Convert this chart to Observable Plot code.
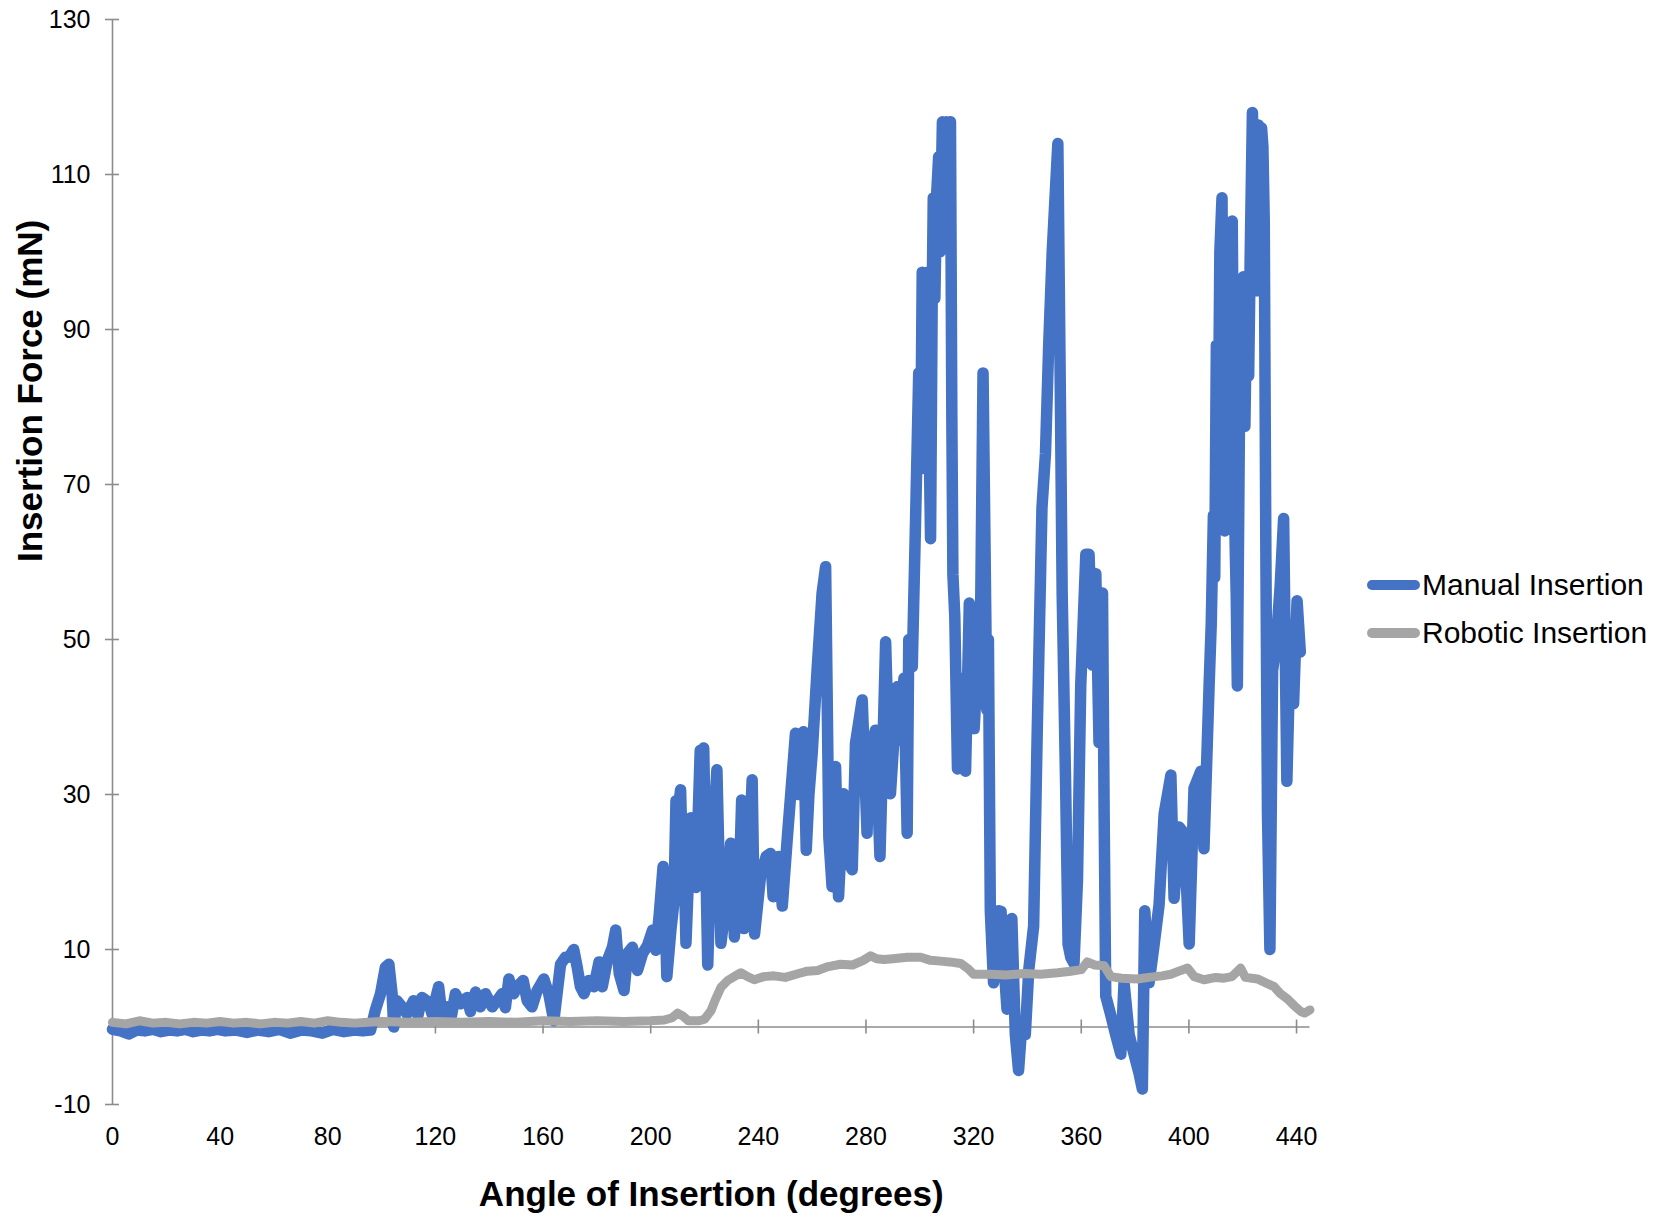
<!DOCTYPE html>
<html>
<head>
<meta charset="utf-8">
<script src="https://cdn.jsdelivr.net/npm/d3@7"></script>
<script src="https://cdn.jsdelivr.net/npm/@observablehq/plot@0.6"></script>
<style>
  html, body { margin: 0; padding: 0; background: #fff; }
  #wrap { position: relative; width: 1654px; height: 1219px; font-family: "Liberation Sans", Arial, sans-serif; }
  #legend { position: absolute; left: 1367px; top: 561px; }
  .row { display: flex; align-items: center; height: 48px; font-size: 30px; color: #000; white-space: nowrap; }
  .sw { width: 53px; height: 10px; border-radius: 5px; margin-right: 2px; }
</style>
</head>
<body>
<div id="wrap"><div id="legend"></div></div>
<script>
// ---- data ----
const seriesNames = ["Manual Insertion", "Robotic Insertion"];
const seriesColors = ["#4472C4", "#A5A5A5"];
const xTicks = [0, 40, 80, 120, 160, 200, 240, 280, 320, 360, 400, 440];
const yTicks = [-10, 10, 30, 50, 70, 90, 110, 130];

const manualAngle = [0,3,6,9,12,15,18,21,24,27,30,33,36,39,42,46,50,54,58,62,66,70,74,78,82,86,90,93,95.9,
97.7,99.6,101.4,102.7,103.9,104.5,105.7,107.6,109.4,111.9,113.5,115,117.5,118.7,121.2,122.5,124.3,126,127.4,129.3,
131.8,133,134.9,136.7,138.6,141.1,142.9,144.8,146,147.3,149.1,150.4,152.6,154.1,155.9,157.8,160.3,162.1,164,165.2,
166.5,168.3,169.6,171.4,172.7,173.9,175.2,177,178.9,180.8,182,183.9,185.8,187,188.3,190.1,191.4,193.2,195.1,197,
198.8,200.7,201.9,203.2,204.6,205.2,206,207.5,208.6,209.4,210.2,211.1,211.8,212.4,213.1,214.9,216.8,218.4,219.1,219.7,221.2,222.4,223.6,224.6,
226.1,228,229.7,231.1,232.1,233,233.8,234.6,236.1,237.7,238.6,240.8,242.9,244.5,245.5,247.5,248.9,250.7,253.8,254.8,256.8,
257.8,258.8,260,261.9,263.7,265,266.2,267.4,268.7,269.8,271.7,273,274.9,276.1,278.6,280.4,281.1,283.5,285.2,287.3,
287.9,289.1,291.6,292.8,294.1,295.3,295.9,297.2,298.4,299.6,300.3,300.9,301.4,302.1,302.8,303.5,304,304.6,305,
305.6,306.2,307,307.5,308.4,309.2,309.8,310.5,311.4,311.9,312.3,313,314,315.2,315.9,317,318.4,319,320.2,321.5,322.5,323.5,324.3,324.9,325.5,326.2,
327.4,328.5,329.3,330.2,331.1,332.4,333.2,334.2,335.5,336.7,338,339.2,340.5,342.3,343.6,345.4,346.7,347.9,349.2,
350.4,351.3,352.3,352.9,354.2,355.1,356.1,357.3,358.6,359.8,361.7,362.9,364.1,365.4,366.6,367.9,368.5,369.1,371,
372.8,374.7,375.9,377.8,379.6,381.5,382.7,383.6,385.2,387.1,388.9,390.8,393.3,394.5,396.4,398.2,400.1,401.9,404.4,
405.6,407.5,408.3,409.1,409.6,410.2,410.8,411.5,412.3,412.8,413.3,413.8,414.4,414.9,415.5,416.1,416.6,417.2,417.6,418,
418.6,419.2,419.7,420.2,420.8,421.3,421.7,422.2,422.8,423.6,424.2,424.8,425.3,425.8,426.4,427,427.5,428,428.6,429.2,430.1,
431.1,432.3,433.9,435.2,436.4,437.7,438.9,440.2,441.4];
const manualForce = [-0.3,-0.5,-0.9,-0.4,-0.5,-0.3,-0.6,-0.4,-0.5,-0.3,-0.6,-0.4,-0.5,-0.3,-0.5,-0.4,-0.7,-0.4,-0.6,-0.3,-0.8,-0.4,-0.5,-0.8,-0.3,-0.6,-0.4,-0.5,-0.4,
2.2,4.3,7.7,8.1,4.3,0,3.4,2.6,1.7,3.4,1.5,3.8,3.2,1.7,5.2,1.3,2.6,1.5,4.3,3,
3.8,2.0,4.5,2.6,4.3,2.6,3.4,4.3,2.5,6.2,4.3,5.2,6,3.4,2.6,4.7,6.2,4.3,0.8,4.3,
8.1,9,9,10,7.7,5.2,4.3,6,5.2,8.4,5.2,8.6,10.3,12.5,6.9,4.7,9.5,10.3,7.3,9.5,
10.5,12.5,9.9,14.6,20.7,16.8,6.5,12.5,16,29.2,28,30.6,21.5,22,10.8,27,18,35.7,35.7,36,8,23,27,33.2,
10.8,16.3,23.7,11.6,22,19.8,29.3,12.7,18,31.9,12,19.4,22,22.4,16.8,22,15.6,24.1,37.9,30,38.1,
22.8,30,35.3,46.5,56,59.4,24.5,18.1,33.6,16.8,30.1,21.5,20.3,36.6,42.2,25,34.8,38.3,22,49.7,
42.2,30.1,43.9,37,45,25,50,46.5,65,84.4,72,97.4,92.9,80,97.4,75,63,94,107,
94,107,112.3,100,116.8,105,116.8,112,116.8,79,58.4,53,33.3,45,40,33,54.7,45,38.5,47.3,50,84.4,60,40.9,50,15,
5.7,12,15,14.9,9,2.3,6,14,-1,-5.6,0.7,-1,7.4,13,37.5,67,74,88,100,
108,114,79,56,31,10.7,9,8.2,19,44,61,61,46.7,58.5,36.7,56,27.5,4,1.5,
-1,-3.5,5.7,-1,-3.5,-6,-8,15,5.7,10.7,15.7,27.5,32.5,16.6,25.8,25,10.7,30.8,33,
23,44,52,66,58,88,70,100,107,80,64,90,70,86,96,104,80,62,55.5,44,
70,96,80,96.8,77.5,90,96,84,100,118,105,116,95,116.4,108,116,113.6,104,61,27.5,10,
46,49,56.8,65.6,31.7,50,41.7,55,48.4];

const roboticAngle = [0,5,10,15,20,25,30,35,40,45,50,55,60,65,70,75,80,85,90,95,100,110,120,130,140,150,160,170,180,190,
200,205,208,210,212,214,218,220,222.4,224,226.1,228.6,231,233.5,236,238.5,242,245.8,250,255,258.2,262,266,270.6,275,279,
281.7,284,286.7,290,295.3,300.3,304,307.8,311,315.2,318,320,326.5,332,338.8,345,351.2,356.1,360,362.2,365,368.5,371,375,
380.9,385,390,393.3,397,399.5,402,405.6,410,413,416,419.2,421,425.5,428,431.7,434,436.7,439,441.6,443,445];
const roboticForce = [0.6,0.4,0.8,0.5,0.6,0.4,0.6,0.5,0.7,0.5,0.6,0.4,0.6,0.5,0.7,0.5,0.8,0.6,0.5,0.6,0.7,0.6,0.7,0.6,0.7,0.6,0.8,0.7,0.8,0.7,
0.8,0.9,1.2,1.8,1.4,0.8,0.8,1.0,2.1,3.5,5.1,6,6.5,7,6.5,6.1,6.5,6.6,6.4,6.9,7.2,7.3,7.8,8.1,8.0,8.6,
9.2,8.8,8.7,8.8,9.0,9.0,8.6,8.5,8.4,8.2,7.5,6.8,6.8,6.7,6.9,6.8,7.0,7.2,7.4,8.4,8.0,7.9,6.5,6.3,
6.2,6.4,6.6,6.8,7.3,7.6,6.5,6.1,6.4,6.3,6.5,7.6,6.4,6.2,5.8,5.2,4.3,3.6,2.8,2.0,1.8,2.2];

// ---- build tables ----
const manual = manualAngle.map((a, i) => ({angle: a, force: manualForce[i]}));
const robotic = roboticAngle.map((a, i) => ({angle: a, force: roboticForce[i]}));

const axisColor = "#8c8c8c";
const chart = Plot.plot({
  width: 1654,
  height: 1219,
  marginLeft: 112,
  marginRight: 344.5,
  marginTop: 19,
  marginBottom: 115,
  x: {domain: [0, 445]},
  y: {domain: [-10, 130]},
  style: {fontFamily: "'Liberation Sans', Arial, sans-serif", fontSize: "25px", color: "#000", background: "#fff", overflow: "visible"},
  marks: [
    Plot.ruleX([0], {y1: -10, y2: 130, stroke: axisColor, strokeWidth: 1.6}),
    Plot.ruleY([0], {x1: 0, x2: 445, stroke: axisColor, strokeWidth: 1.6}),
    Plot.ruleY(yTicks, {x1: -2.6, x2: 2.6, stroke: axisColor, strokeWidth: 1.6}),
    Plot.ruleX(xTicks, {y1: -0.9, y2: 0.9, stroke: axisColor, strokeWidth: 1.6}),
    Plot.axisY({ticks: yTicks, tickSize: 0, tickPadding: 22, label: null, fontSize: 25, tickFormat: d => String(d)}),
    Plot.axisX({ticks: xTicks, tickSize: 0, tickPadding: 23, label: null, fontSize: 25, tickFormat: d => String(d)}),
    Plot.line(manual, {x: "angle", y: "force", stroke: seriesColors[0], strokeWidth: 11.5, strokeLinejoin: "round", strokeLinecap: "round"}),
    Plot.line(robotic, {x: "angle", y: "force", stroke: seriesColors[1], strokeWidth: 9, strokeLinejoin: "round", strokeLinecap: "round"}),
    Plot.text(["Insertion Force (mN)"], {frameAnchor: "left", rotate: -90, dx: -82, fontSize: 35, fontWeight: "bold", fill: "#000"}),
    Plot.text(["Angle of Insertion (degrees)"], {frameAnchor: "bottom", dy: 101, fontSize: 35, fontWeight: "bold", fill: "#000"})
  ]
});
const wrap = document.getElementById("wrap");
wrap.insertBefore(chart, wrap.firstChild);

const legend = document.getElementById("legend");
seriesNames.forEach((name, i) => {
  const row = document.createElement("div");
  row.className = "row";
  const sw = document.createElement("span");
  sw.className = "sw";
  sw.style.background = seriesColors[i];
  const t = document.createElement("span");
  t.textContent = name;
  row.appendChild(sw);
  row.appendChild(t);
  legend.appendChild(row);
});
</script>
</body>
</html>
